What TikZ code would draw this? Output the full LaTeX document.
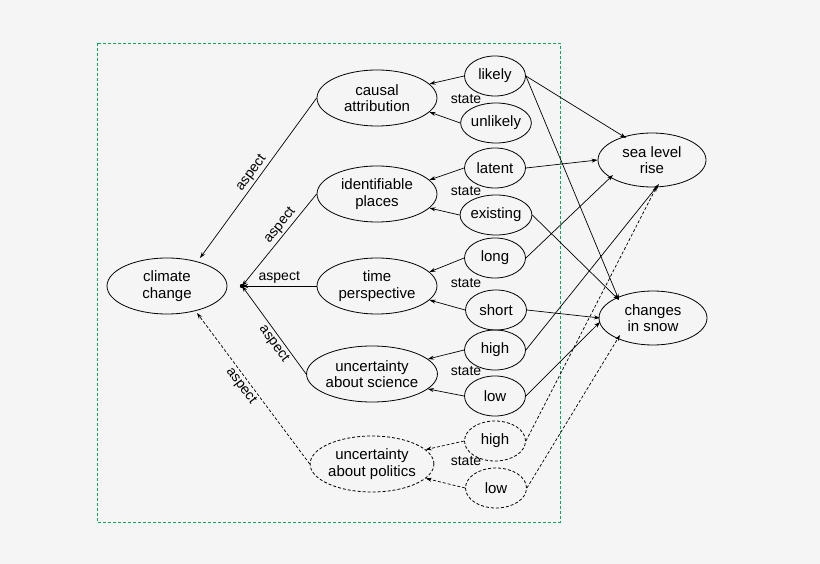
\documentclass[tikz,border=0pt]{standalone}
\usepackage{fontspec}
\setmainfont{Liberation Sans}
\usetikzlibrary{shapes.geometric,arrows.meta}
\begin{document}
\begin{tikzpicture}[x=1pt,y=-1pt,
  every node/.style={font=\fontsize{15}{16.5}\selectfont},
  big/.style={ellipse,draw,line width=0.8pt,minimum width=120pt,minimum height=56pt,align=center,inner sep=0pt},
  st/.style={ellipse,draw,line width=0.8pt,minimum width=61pt,minimum height=40pt,inner sep=0pt},
  res/.style={ellipse,draw,line width=0.8pt,minimum width=108pt,minimum height=54pt,align=center,inner sep=0pt},
  dsh/.style={dashed,dash pattern=on 3pt off 2pt},
  e/.style={draw,line width=0.7pt,-{Stealth[length=6pt,width=4pt]}},
  lab/.style={font=\fontsize{14}{15}\selectfont,inner sep=2pt}]
\useasboundingbox (0,0) rectangle (820,564);
\fill[black!4] (0,0) rectangle (820,564);
\draw[teal!70!green,dsh,line width=0.6pt] (97,43) rectangle (560,522);
\node[big] (cc) at (167,286) {climate\\change};
\node[big] (ca) at (377,98) {causal\\attribution};
\node[big] (ip) at (377,194) {identifiable\\places};
\node[big] (tp) at (377,286) {time\\perspective};
\node[big] (us) at (372,374) {uncertainty\\about science};
\node[big,dsh] (up) at (372,464) {uncertainty\\about politics};
\node[st] (likely) at (495,76) {likely};
\node[st] (unlikely) at (496,123) {unlikely};
\node[st] (latent) at (495,168) {latent};
\node[st] (existing) at (496,215) {existing};
\node[st] (long) at (495,258) {long};
\node[st] (short) at (496,310) {short};
\node[st] (high) at (495,350) {high};
\node[st] (low) at (495,396) {low};
\node[st,dsh] (phigh) at (495,441) {high};
\node[st,dsh] (plow) at (496,488) {low};
\node[res] (sea) at (652,160) {sea level\\rise};
\node[res] (snow) at (653,318) {changes\\in snow};
\coordinate (hub) at (242,286);
\fill (hub) circle (2.2pt);
% aspect edges
\path[e] (ca.west) -- node[lab,sloped,above] {aspect} (200,258);
\path[e] (ip.west) -- node[lab,sloped,above,pos=0.4] {aspect} (hub);
\path[e] (tp.west) -- node[lab,above] {aspect} (hub);
\path[e] (us.west) -- node[lab,sloped,below,pos=0.4] {aspect} (hub);
\path[e,dsh] (up.west) -- node[lab,sloped,below,pos=0.55] {aspect} (197,313);
% state edges
\foreach \s/\t/\p in {likely/unlikely/ca,latent/existing/ip,long/short/tp,high/low/us}{
  \path[e] (\s.west) -- (\p.15);
  \path[e] (\t.west) -- (\p.-15);}
\path[e,dsh] (phigh.west) -- (up.15);
\path[e,dsh] (plow.west) -- (up.-15);
\foreach \y/\t in {99/ca,191/ip,283/tp,371/us,461/up}
  \node[lab,inner sep=0pt] at (466,\y) {state};
% result edges
\path[e] (likely.east) -- (626,138);
\path[e] (likely.east) -- (619,300);
\path[e] (latent.east) -- (sea.west);
\path[e] (existing.east) -- (619,300);
\path[e] (long.east) -- (613,175);
\path[e] (short.east) -- (600,318);
\path[e] (high.east) -- (659,184);
\path[e] (low.east) -- (600,322);
\path[e,dsh] (phigh.east) -- (657,186);
\path[e,dsh] (plow.east) -- (620,335);
\end{tikzpicture}
\end{document}
